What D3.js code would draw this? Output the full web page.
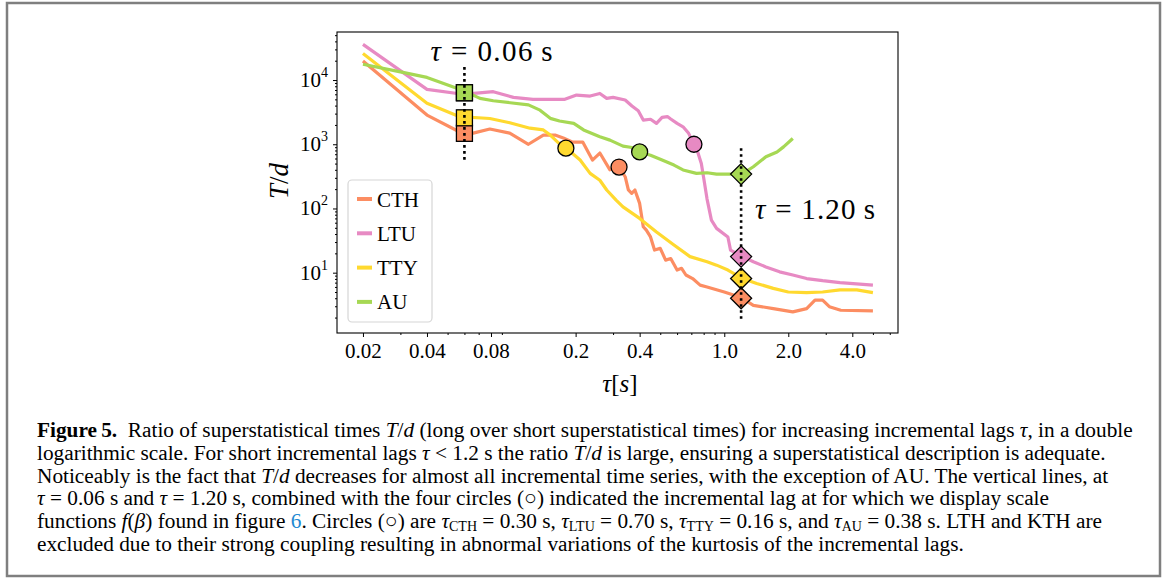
<!DOCTYPE html>
<meta charset="utf-8">
<head>
<script src="https://d3js.org/d3.v7.min.js"></script>
<style>
  body { margin: 0; background: #fff; }
  text { font-family: "Liberation Serif", serif; fill: #000; }
  .cap text { font-size: 21.3px; }
</style>
</head>
<body>
<div id="chart"></div>
<script>
// series: [tau (s), T/d]
var cth = [[0.02,19800],[0.04,2850],[0.057,1550],[0.066,1490],[0.079,1725],[0.098,1490],[0.12,1000],
  [0.141,1390],[0.16,1390],[0.175,1250],[0.194,1080],[0.216,1080],[0.24,567],[0.26,730],[0.29,400],
  [0.32,442],[0.342,312],[0.354,194],[0.367,172],[0.38,194],[0.40,120],[0.416,52],[0.43,46],[0.45,36],
  [0.47,22.5],[0.50,23.9],[0.53,15.7],[0.56,16.6],[0.60,11],[0.63,11.7],[0.66,9.2],[0.71,8.1],[0.77,6.4],
  [0.83,6.0],[1.0,5.0],[1.2,4.1],[1.37,3.1],[1.7,2.76],[2.1,2.45],[2.44,2.76],[2.67,3.74],[2.9,3.74],
  [3.12,2.95],[3.53,2.6],[5.0,2.55]];
var ltu = [[0.02,36000],[0.04,7170],[0.059,6000],[0.082,6580],[0.102,5370],[0.126,5000],[0.178,5000],
  [0.202,5840],[0.234,5630],[0.26,6180],[0.28,5190],[0.30,5380],[0.342,4890],[0.368,3940],[0.394,3320],
  [0.416,2380],[0.45,2450],[0.48,2110],[0.51,2620],[0.54,2700],[0.56,2470],[0.60,2110],[0.64,1870],
  [0.68,1480],[0.72,1000],[0.75,760],[0.78,500],[0.80,300],[0.83,140],[0.87,66],[0.92,49],[1.04,36],
  [1.07,22.5],[1.14,20],[1.22,17.8],[1.37,14.8],[1.57,12.3],[1.82,10.3],[2.1,9.2],[2.44,8.1],[2.9,7.5],
  [3.5,7.0],[5.0,6.4]];
var tty = [[0.02,26000],[0.04,4340],[0.057,2690],[0.079,2520],[0.098,2160],[0.122,1780],[0.141,1670],
  [0.152,1390],[0.166,1050],[0.18,880],[0.21,568],[0.234,352],[0.26,275],[0.28,194],[0.31,135],
  [0.334,106],[0.40,70],[0.48,43],[0.58,27],[0.69,17.8],[0.83,14.8],[0.92,13.1],[1.04,11],[1.22,8.1],
  [1.42,6.8],[1.7,5.7],[2.0,5.0],[2.44,4.9],[2.9,5.0],[3.5,5.4],[4.2,5.4],[5.0,4.9]];
var au = [[0.02,17600],[0.03,13400],[0.04,11000],[0.06,6730],[0.071,5190],[0.082,4760],[0.12,4100],
  [0.136,3400],[0.152,2530],[0.168,2300],[0.196,2110],[0.218,1670],[0.26,1310],[0.29,1160],[0.334,935],
  [0.368,890],[0.40,760],[0.45,675],[0.51,568],[0.58,474],[0.64,398],[0.74,352],[0.83,360],[0.92,343],
  [1.04,343],[1.21,343],[1.37,446],[1.57,638],[1.77,760],[1.9,910],[2.1,1230]];

var names = ["CTH", "LTU", "TTY", "AU"];
var colors = ["#fc8d62", "#e78ac3", "#ffd92f", "#a6d854"];
var series = [cth, ltu, tty, au];

// markers
var squareVals = [1480, 6340, 2580, 6340];   // at tau = 0.06
var diamondVals = [4.0, 17.8, 8.1, 343];     // at tau = 1.20
var circleTau = [0.32, 0.72, 0.18, 0.40];
var circleVals = [442, 1000, 870, 760];
var vlines = [[0.06, 510, 15900], [1.2, 1.9, 870]];

var xTicks = [0.02, 0.04, 0.08, 0.2, 0.4, 1, 2, 4];
var xTickLabels = ["0.02", "0.04", "0.08", "0.2", "0.4", "1.0", "2.0", "4.0"];
var yTicks = [10, 100, 1000, 10000];
var yTickExp = ["1", "2", "3", "4"];

var W = 1176, H = 578;
var svg = d3.select("#chart").append("svg").attr("width", W).attr("height", H);
svg.append("rect").attr("width", W).attr("height", H).attr("fill", "#fff");
// figure frame
svg.append("rect").attr("x", 7).attr("y", 3).attr("width", 1153).attr("height", 573)
  .attr("fill", "none").attr("stroke", "#7f7f7f").attr("stroke-width", 2.5);

var x = d3.scaleLog().domain([0.0151, 6.56]).range([337, 898]);
var y = d3.scaleLog().domain([1.15, 56000]).range([333, 32]);

svg.append("clipPath").attr("id", "clip").append("rect")
  .attr("x", 337).attr("y", 32).attr("width", 561).attr("height", 301);

// minor ticks
var xMinor = [];
[0.01, 0.1, 1].forEach(function (b) {
  for (var k = 2; k <= 9; k++) {
    var v = +(b * k).toPrecision(3);
    if (v >= 0.0151 && v <= 6.56 && xTicks.indexOf(v) < 0) xMinor.push(v);
  }
});
var yMinor = [];
[1, 10, 100, 1000, 10000].forEach(function (b) {
  for (var k = 2; k <= 9; k++) { var v = b * k; if (v >= 1.15 && v <= 56000) yMinor.push(v); }
});

var gx = svg.append("g").attr("transform", "translate(0,333)");
gx.call(d3.axisBottom(x).tickValues(xTicks).tickFormat(function (d, i) { return xTickLabels[i]; })
  .tickSize(4).tickSizeOuter(0));
gx.append("g").call(d3.axisBottom(x).tickValues(xMinor).tickFormat("").tickSize(2).tickSizeOuter(0));
gx.selectAll("path").remove();
gx.selectAll("text").attr("dy", 0).attr("y", 25).style("font-size", "21px")
  .style("font-family", "Liberation Serif");

var gy = svg.append("g").attr("transform", "translate(337,0)");
gy.call(d3.axisLeft(y).tickValues(yTicks).tickFormat("").tickSize(4).tickSizeOuter(0));
gy.append("g").call(d3.axisLeft(y).tickValues(yMinor).tickFormat("").tickSize(2).tickSizeOuter(0));
gy.selectAll("path").remove();
svg.selectAll(".tick line").attr("stroke", "#000").attr("stroke-width", 1);

yTicks.forEach(function (v, i) {
  var t = svg.append("text").attr("x", 328).attr("y", y(v) + 7).attr("text-anchor", "end")
    .style("font-size", "21px");
  t.append("tspan").text("10");
  t.append("tspan").attr("dy", -10).style("font-size", "14px").text(yTickExp[i]);
});

// axes box
svg.append("rect").attr("x", 337).attr("y", 32).attr("width", 561).attr("height", 301)
  .attr("fill", "none").attr("stroke", "#000").attr("stroke-width", 1.1);

var line = d3.line().x(function (d) { return x(d[0]); }).y(function (d) { return y(d[1]); });
var plot = svg.append("g").attr("clip-path", "url(#clip)");
series.forEach(function (s, i) {
  plot.append("path").attr("d", line(s)).attr("fill", "none").attr("stroke", colors[i])
    .attr("stroke-width", 3.2).attr("stroke-linejoin", "round");
});

// squares at 0.06
var sq = 16;
[1, 0, 2, 3].forEach(function (i) {
  plot.append("rect").attr("x", x(0.06) - sq / 2).attr("y", y(squareVals[i]) - sq / 2)
    .attr("width", sq).attr("height", sq).attr("fill", colors[i])
    .attr("stroke", "#000").attr("stroke-width", 1.3);
});
// diamonds at 1.2
diamondVals.forEach(function (v, i) {
  var cx = x(1.2), cy = y(v), r = 10.5;
  plot.append("path").attr("d", "M" + cx + "," + (cy - r) + "L" + (cx + r) + "," + cy + "L" + cx + "," +
    (cy + r) + "L" + (cx - r) + "," + cy + "Z")
    .attr("fill", colors[i]).attr("stroke", "#000").attr("stroke-width", 1.3);
});
// circles
circleVals.forEach(function (v, i) {
  plot.append("circle").attr("cx", x(circleTau[i])).attr("cy", y(v)).attr("r", 8)
    .attr("fill", colors[i]).attr("stroke", "#000").attr("stroke-width", 1.3);
});
// dotted vertical lines
vlines.forEach(function (l) {
  svg.append("line").attr("x1", x(l[0])).attr("x2", x(l[0])).attr("y1", y(l[2])).attr("y2", y(l[1]))
    .attr("stroke", "#000").attr("stroke-width", 2.6).attr("stroke-dasharray", "2.6,3.4");
});

// annotations
function tauText(px, py, num, len) {
  var t = svg.append("text").attr("x", px).attr("y", py).style("font-size", "29px")
    .attr("textLength", len).attr("lengthAdjust", "spacing");
  t.append("tspan").style("font-style", "italic").text("τ");
  t.append("tspan").text(" = " + num + "\u2009s");
}
tauText(x(0.06) - 34, 61, "0.06", 122);
tauText(x(1.2) + 14, 219, "1.20", 120);

// axis labels
var xl = svg.append("text").attr("x", 620).attr("y", 392).attr("text-anchor", "middle")
  .style("font-size", "25px");
xl.append("tspan").style("font-style", "italic").text("τ");
xl.append("tspan").text("[");
xl.append("tspan").style("font-style", "italic").text("s");
xl.append("tspan").text("]");
var yl = svg.append("text").attr("transform", "translate(288,181) rotate(-90)")
  .attr("text-anchor", "middle").style("font-size", "27px");
yl.append("tspan").style("font-style", "italic").text("T");
yl.append("tspan").text("/");
yl.append("tspan").style("font-style", "italic").text("d");

// legend
var lg = svg.append("g");
lg.append("rect").attr("x", 348).attr("y", 180).attr("width", 84).attr("height", 142).attr("rx", 4)
  .attr("fill", "#fff").attr("fill-opacity", 0.8).attr("stroke", "#d6d6d6").attr("stroke-width", 1.2);
names.forEach(function (n, i) {
  var cy = 199 + i * 34.3;
  lg.append("line").attr("x1", 357).attr("x2", 372).attr("y1", cy).attr("y2", cy)
    .attr("stroke", colors[i]).attr("stroke-width", 4);
  lg.append("text").attr("x", 377).attr("y", cy + 7.5).style("font-size", "21px").text(n);
});

// caption
var cap = svg.append("g").attr("class", "cap");
var capLines = [
  [["b", "Figure\u20095."], ["", "  Ratio of superstatistical times "], ["i", "T"], ["", "/"], ["i", "d"],
   ["", " (long over short superstatistical times) for increasing incremental lags "], ["i", "τ"], ["", ", in a double"]],
  [["", "logarithmic scale. For short incremental lags "], ["i", "τ"], ["", " < 1.2 s the ratio "], ["i", "T"], ["", "/"], ["i", "d"],
   ["", " is large, ensuring a superstatistical description is adequate."]],
  [["", "Noticeably is the fact that "], ["i", "T"], ["", "/"], ["i", "d"],
   ["", " decreases for almost all incremental time series, with the exception of AU. The vertical lines, at"]],
  [["i", "τ"], ["", " = 0.06 s and "], ["i", "τ"], ["", " = 1.20 s, combined with the four circles (○) indicated the incremental lag at for which we display scale"]],
  [["", "functions "], ["i", "f"], ["", "("], ["i", "β"], ["", ") found in figure "], ["c", "6"], ["", ". Circles (○) are "],
   ["i", "τ"], ["s", "CTH"], ["", " = 0.30 s, "], ["i", "τ"], ["s", "LTU"], ["", " = 0.70 s, "], ["i", "τ"], ["s", "TTY"],
   ["", " = 0.16 s, and "], ["i", "τ"], ["s", "AU"], ["", " = 0.38 s. LTH and KTH are"]],
  [["", "excluded due to their strong coupling resulting in abnormal variations of the kurtosis of the incremental lags."]]
];
capLines.forEach(function (parts, li) {
  var t = cap.append("text").attr("x", 37).attr("y", 437 + li * 22.75).attr("xml:space", "preserve");
  parts.forEach(function (p, j) {
    var ts = t.append("tspan").text(p[1]);
    if (p[0] === "b") ts.style("font-weight", "bold");
    if (p[0] === "i") ts.style("font-style", "italic");
    if (p[0] === "c") ts.style("fill", "#1f8ad2");
    if (p[0] === "s") ts.style("font-size", "14px").attr("dy", 3);
    if (p[0] === "" && j > 0 && parts[j - 1][0] === "s") ts.attr("dy", -3);
  });
});
</script>
</body>
